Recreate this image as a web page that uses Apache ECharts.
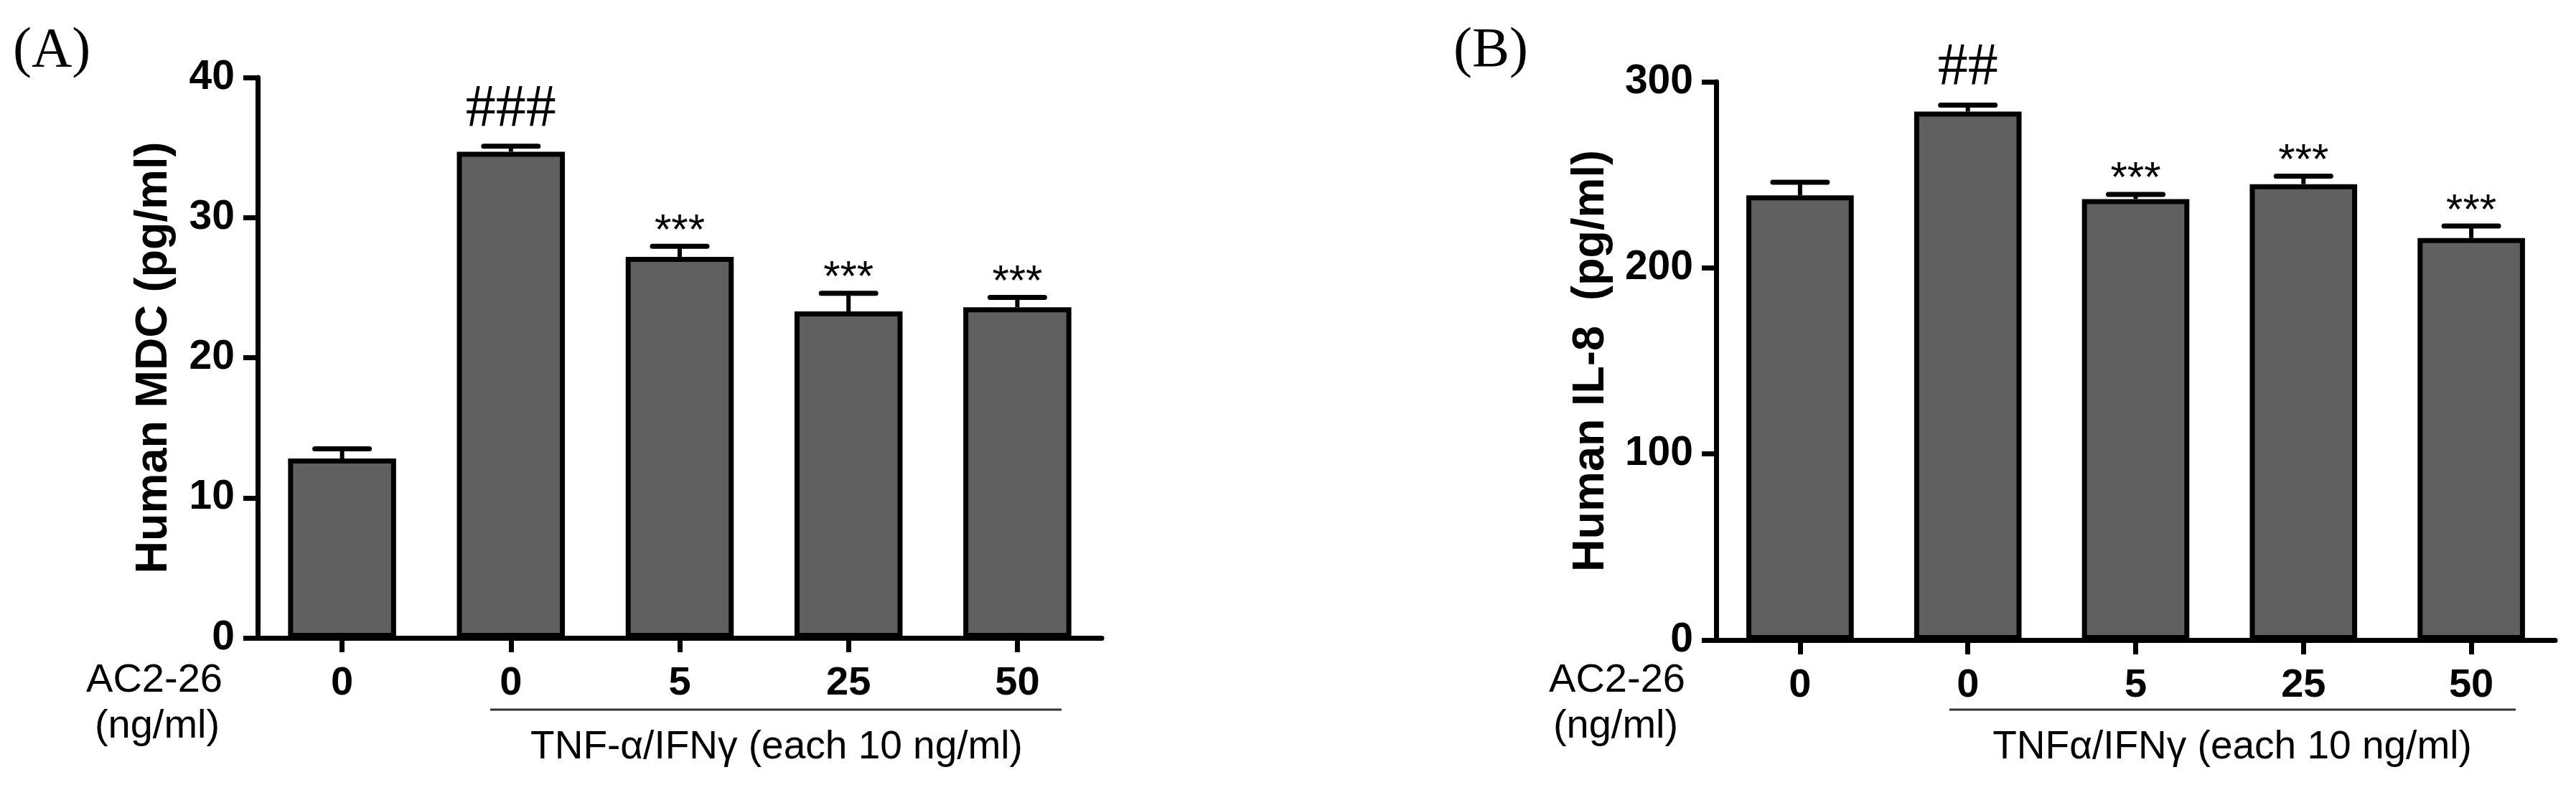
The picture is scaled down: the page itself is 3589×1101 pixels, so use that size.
<!DOCTYPE html>
<html>
<head>
<meta charset="utf-8">
<script src="https://cdn.jsdelivr.net/npm/echarts@6/dist/echarts.min.js"></script>
<style>
html,body{margin:0;padding:0;background:#fff;}
#chart{width:3589px;height:1101px;}
</style>
</head>
<body>
<div id="chart"></div>
<script>
// ---- data ----
const doseLabels = ['0', '0', '5', '25', '50'];
const mdcMean = [12.8, 34.7, 27.2, 23.3, 23.6];
const mdcErr  = [0.7, 0.4, 0.75, 1.3, 0.7];
const mdcSig  = ['', '###', '***', '***', '***'];
const il8Mean = [239, 284, 237, 245, 216];
const il8Err  = [7, 3.5, 2.5, 4.3, 6.5];
const il8Sig  = ['', '##', '***', '***', '***'];
const yTicksA = [0, 10, 20, 30, 40];
const yTicksB = [0, 100, 200, 300];

const SANS = 'Liberation Sans, Arial, sans-serif';
const SERIF = 'Liberation Serif, Times New Roman, serif';

const chart = echarts.init(document.getElementById('chart'), null, {renderer: 'canvas'});

function xAxisCfg(gridIndex) {
  return {
    type: 'category', gridIndex: gridIndex, data: doseLabels,
    axisLine: {show: true, lineStyle: {color: '#000', width: 7}},
    axisTick: {show: true, alignWithLabel: true, length: 20, lineStyle: {color: '#000', width: 7}},
    axisLabel: {margin: 36, color: '#000', fontFamily: SANS, fontWeight: 'bold', fontSize: 56},
    splitLine: {show: false}
  };
}
function yAxisCfg(gridIndex, ticks, name, gap) {
  return {
    type: 'value', gridIndex: gridIndex,
    min: ticks[0], max: ticks[ticks.length - 1], interval: ticks[1] - ticks[0],
    name: name, nameLocation: 'middle', nameRotate: 90, nameGap: gap,
    nameTextStyle: {color: '#000', fontFamily: SANS, fontWeight: 'bold', fontSize: 63},
    axisLine: {show: true, lineStyle: {color: '#000', width: 7}},
    axisTick: {show: true, length: 20, lineStyle: {color: '#000', width: 7}},
    axisLabel: {margin: 32, color: '#000', fontFamily: SANS, fontWeight: 'bold', fontSize: 57},
    splitLine: {show: false}
  };
}
function barSeries(idx, values) {
  return {
    type: 'bar', xAxisIndex: idx, yAxisIndex: idx, data: values,
    barWidth: '64%',
    itemStyle: {color: '#606060', borderColor: '#000', borderWidth: 7},
    z: 2
  };
}
function errSeries(idx, means, errs, sigs) {
  return {
    type: 'custom', xAxisIndex: idx, yAxisIndex: idx, z: 5, clip: false,
    data: means.map((m, i) => [i, m, errs[i]]),
    renderItem: function (params, api) {
      const i = api.value(0), m = api.value(1), e = api.value(2);
      const p0 = api.coord([i, m]);
      const p1 = api.coord([i, m + e]);
      const half = 38;
      const sig = sigs[params.dataIndex];
      const children = [
        {type: 'line', shape: {x1: p0[0], y1: p0[1], x2: p1[0], y2: p1[1]},
         style: {stroke: '#000', lineWidth: 6}},
        {type: 'line', shape: {x1: p1[0] - half, y1: p1[1], x2: p1[0] + half, y2: p1[1]},
         style: {stroke: '#000', lineWidth: 7, lineCap: 'round'}}
      ];
      if (sig) {
        const isHash = sig.charAt(0) === '#';
        children.push({
          type: 'text', x: p1[0], y: p1[1] - (isHash ? 50 : 20),
          style: {
            text: sig, fill: '#000', align: 'center', verticalAlign: 'middle',
            font: isHash ? ('84px ' + SERIF) : ('60px ' + SANS)
          }
        });
      }
      return {type: 'group', children: children};
    }
  };
}

function txt(x, y, text, font, align) {
  return {type: 'text', x: x, y: y, style: {text: text, font: font, fill: '#000',
    align: align || 'center', verticalAlign: 'middle'}};
}
function hline(x1, x2, y) {
  return {type: 'line', shape: {x1: x1, y1: y, x2: x2, y2: y}, style: {stroke: '#333', lineWidth: 3}};
}

chart.setOption({
  animation: false,
  backgroundColor: '#fff',
  grid: [
    {left: 359, top: 108, width: 1176, height: 781, containLabel: false},
    {left: 2391, top: 114, width: 1169, height: 778, containLabel: false}
  ],
  xAxis: [xAxisCfg(0), xAxisCfg(1)],
  yAxis: [yAxisCfg(0, yTicksA, 'Human MDC (pg/ml)', 113), yAxisCfg(1, yTicksB, 'Human IL-8  (pg/ml)', 143)],
  series: [
    barSeries(0, mdcMean), errSeries(0, mdcMean, mdcErr, mdcSig),
    barSeries(1, il8Mean), errSeries(1, il8Mean, il8Err, il8Sig)
  ],
  graphic: [
    txt(18, 72, '(A)', '78px ' + SERIF, 'left'),
    txt(2025, 72, '(B)', '78px ' + SERIF, 'left'),
    txt(215, 949, 'AC2-26', '56px ' + SANS),
    txt(219, 1013, '(ng/ml)', '56px ' + SANS),
    txt(2253, 949, 'AC2-26', '56px ' + SANS),
    txt(2251, 1013, '(ng/ml)', '56px ' + SANS),
    hline(683, 1479, 989),
    hline(2716, 3505, 989),
    txt(1082, 1042, 'TNF-α/IFNγ (each 10 ng/ml)', '55px ' + SANS),
    txt(3110, 1042, 'TNFα/IFNγ (each 10 ng/ml)', '55px ' + SANS)
  ]
});
</script>
</body>
</html>
